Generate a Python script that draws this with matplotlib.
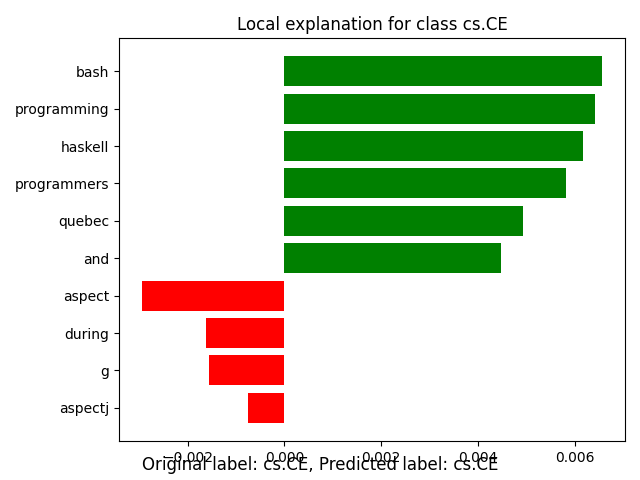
import numpy as np
import matplotlib
matplotlib.use("Agg")
import matplotlib.pyplot as plt

# features and weights, top to bottom as in the picture
features = ['bash', 'programming', 'haskell', 'programmers', 'quebec',
            'and', 'aspect', 'during', 'g', 'aspectj']
weights = [0.00657, 0.00641, 0.00618, 0.00583, 0.00494,
           0.00448, -0.00294, -0.00162, -0.00156, -0.00075]

vals = weights[::-1]
names = features[::-1]
colors = ['green' if v > 0 else 'red' for v in vals]
pos = np.arange(len(vals)) + .5

fig = plt.figure(figsize=(6.4, 4.8), dpi=100)
plt.barh(pos, vals, align='center', color=colors)
plt.yticks(pos, names)
plt.title('Local explanation for class cs.CE')
plt.subplots_adjust(left=0.186, right=0.977, top=0.921, bottom=0.081)
# label text sits over the tick labels, as in the original
fig.text(0.5, 0.02, 'Original label: cs.CE, Predicted label: cs.CE',
         ha='center', fontsize=12)
plt.savefig('out.png')
